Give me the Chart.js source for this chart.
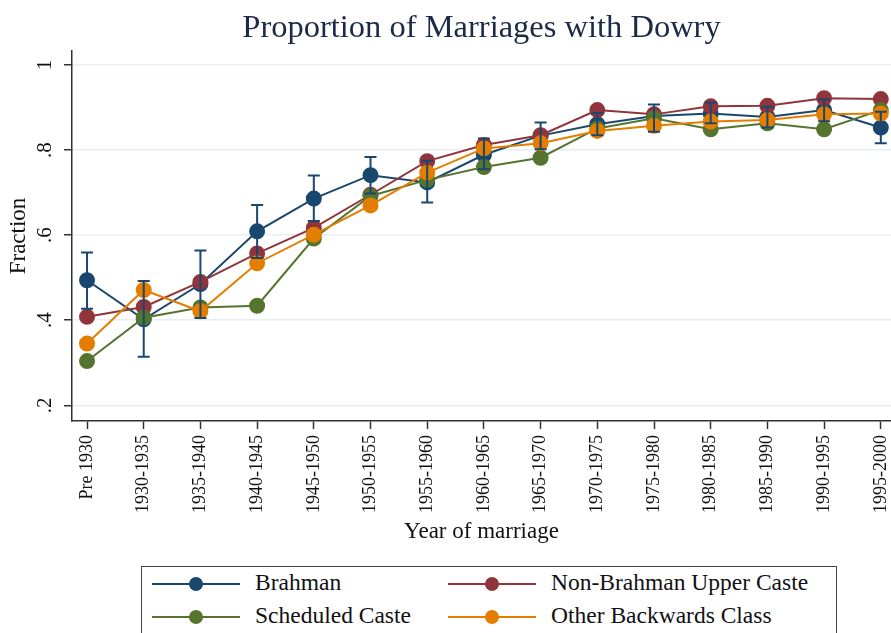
<!DOCTYPE html>
<html>
<head>
<meta charset="utf-8">
<script src="https://cdn.jsdelivr.net/npm/chart.js@4/dist/chart.umd.min.js"></script>
<style>
  html, body { margin: 0; padding: 0; background: #fff; overflow: hidden; }
  #wrap { position: relative; width: 891px; height: 633px; }
  #grafico { position: absolute; left: 0; top: 0; }
  #leyenda {
    position: absolute; left: 141px; top: 566px; width: 696px; height: 90px;
    border: 1px solid #444; box-sizing: border-box; background: #fff;
    font-family: "Liberation Serif", "DejaVu Serif", serif; font-size: 23.5px; color: #111;
  }
  .item { position: absolute; height: 30px; }
  .linea { position: absolute; top: 14px; height: 2px; width: 88px; left: 0; }
  .punto { position: absolute; top: 8px; left: 37px; width: 14px; height: 14px; border-radius: 50%; }
  .texto { position: absolute; left: 103px; top: 0px; white-space: nowrap; }
</style>
</head>
<body>
<div id="wrap">
  <canvas id="grafico" width="891" height="633"></canvas>
  <div id="leyenda"></div>
</div>
<script>
// Datos
const categorias = ['Pre 1930', '1930-1935', '1935-1940', '1940-1945', '1945-1950', '1950-1955',
    '1955-1960', '1960-1965', '1965-1970', '1970-1975', '1975-1980', '1980-1985',
    '1985-1990', '1990-1995', '1995-2000'];

const brahman = [0.494, 0.402, 0.485, 0.609, 0.686, 0.741, 0.724, 0.789, 0.834, 0.861, 0.880, 0.886, 0.878, 0.894, 0.853];
const brahmanBajo = [0.427, 0.314, 0.405, 0.546, 0.633, 0.698, 0.677, 0.755, 0.802, 0.835, 0.843, 0.863, 0.853, 0.868, 0.816];
const brahmanAlto = [0.559, 0.492, 0.564, 0.671, 0.740, 0.784, 0.775, 0.827, 0.865, 0.887, 0.907, 0.912, 0.902, 0.919, 0.890];
const noBrahman = [0.408, 0.431, 0.490, 0.557, 0.617, 0.695, 0.774, 0.812, 0.835, 0.894, 0.884, 0.903, 0.904, 0.922, 0.920];
const castaRegistrada = [0.304, 0.406, 0.430, 0.434, 0.592, 0.692, 0.730, 0.760, 0.782, 0.851, 0.875, 0.849, 0.863, 0.849, 0.894];
const otrasClases = [0.345, 0.471, 0.421, 0.534, 0.601, 0.670, 0.747, 0.804, 0.816, 0.845, 0.857, 0.867, 0.871, 0.884, 0.886];

const ticksY = [0.2, 0.4, 0.6, 0.8, 1];
const etiquetasY = ['.2', '.4', '.6', '.8', '1'];

const series = [
    { nombre: 'Brahman', datos: brahman, color: '#1a476f', orden: 4 },
    { nombre: 'Non-Brahman Upper Caste', datos: noBrahman, color: '#90353b', orden: 3 },
    { nombre: 'Scheduled Caste', datos: castaRegistrada, color: '#55752f', orden: 2 },
    { nombre: 'Other Backwards Class', datos: otrasClases, color: '#e37e00', orden: 1 }
];

const fuente = '"Liberation Serif", "DejaVu Serif", serif';

// Barras de error (solo Brahman)
const barrasError = {
    id: 'barrasError',
    afterDatasetsDraw(chart) {
        const ctx = chart.ctx;
        const x = chart.scales.x, y = chart.scales.y;
        ctx.save();
        ctx.strokeStyle = '#1a476f';
        ctx.lineWidth = 2;
        brahman.forEach((v, i) => {
            const px = x.getPixelForValue(i);
            const y1 = y.getPixelForValue(brahmanBajo[i]);
            const y2 = y.getPixelForValue(brahmanAlto[i]);
            ctx.beginPath();
            ctx.moveTo(px, y1); ctx.lineTo(px, y2);
            ctx.moveTo(px - 6, y1); ctx.lineTo(px + 6, y1);
            ctx.moveTo(px - 6, y2); ctx.lineTo(px + 6, y2);
            ctx.stroke();
        });
        ctx.restore();
    }
};

// Título centrado sobre el área del gráfico
const tituloCentrado = {
    id: 'tituloCentrado',
    afterDraw(chart) {
        const ctx = chart.ctx;
        const a = chart.chartArea;
        ctx.save();
        ctx.font = '32.5px ' + fuente;
        ctx.fillStyle = '#1c2a48';
        ctx.textAlign = 'center';
        ctx.textBaseline = 'middle';
        ctx.fillText('Proportion of Marriages with Dowry', (a.left + a.right) / 2, 28);
        ctx.restore();
    }
};

new Chart(document.getElementById('grafico'), {
    type: 'line',
    data: {
        datasets: series.map(s => ({
            label: s.nombre,
            data: s.datos.map((v, i) => ({ x: i, y: v })),
            borderColor: s.color,
            backgroundColor: s.color,
            pointBackgroundColor: s.color,
            pointBorderColor: s.color,
            borderWidth: 2,
            pointRadius: 7,
            pointHoverRadius: 7,
            tension: 0,
            order: s.orden
        }))
    },
    options: {
        responsive: false,
        animation: false,
        layout: { autoPadding: false, padding: { top: 51, left: 0, right: 0, bottom: 87 } },
        plugins: {
            legend: { display: false },
            tooltip: { enabled: false },
            title: { display: false }
        },
        scales: {
            x: {
                type: 'linear',
                min: -0.265,
                max: 14.18,
                afterBuildTicks: s => { s.ticks = categorias.map((c, i) => ({ value: i })); },
                afterFit: s => { s.height = 125; s.paddingLeft = 0; s.paddingRight = 0; },
                ticks: {
                    callback: v => categorias[v],
                    minRotation: 90,
                    maxRotation: 90,
                    autoSkip: false,
                    padding: 6,
                    color: '#111',
                    font: { family: fuente, size: 18 }
                },
                grid: { drawOnChartArea: false, tickLength: 8, tickColor: '#333', tickWidth: 1.5 },
                border: { color: '#333', width: 1.5 },
                title: {
                    display: true,
                    text: 'Year of marriage',
                    color: '#111',
                    font: { family: fuente, size: 23 },
                    padding: { top: 4, bottom: 0 }
                }
            },
            y: {
                min: 0.163,
                max: 1.033,
                afterBuildTicks: s => { s.ticks = ticksY.map(v => ({ value: v })); },
                afterFit: s => { s.width = 72; s.paddingTop = 0; s.paddingBottom = 0; },
                ticks: {
                    callback: (v, i) => etiquetasY[i],
                    minRotation: 90,
                    maxRotation: 90,
                    crossAlign: 'center',
                    padding: 11,
                    color: '#111',
                    font: { family: fuente, size: 21 }
                },
                grid: { color: '#e8eff2', lineWidth: 1.5, tickLength: 8, tickColor: '#333', tickWidth: 1.5 },
                border: { color: '#333', width: 1.5 },
                title: {
                    display: true,
                    text: 'Fraction',
                    color: '#111',
                    font: { family: fuente, size: 23 },
                    padding: { top: 5, bottom: 0 }
                }
            }
        }
    },
    plugins: [barrasError, tituloCentrado]
});

// Leyenda en recuadro, dos columnas
const leyenda = document.getElementById('leyenda');
const posiciones = [[10, 2], [306, 2], [10, 35], [306, 35]];
series.forEach((s, i) => {
    const item = document.createElement('div');
    item.className = 'item';
    item.style.left = posiciones[i][0] + 'px';
    item.style.top = posiciones[i][1] + 'px';
    item.innerHTML = '<div class="linea" style="background:' + s.color + '"></div>' +
        '<div class="punto" style="background:' + s.color + '"></div>' +
        '<div class="texto">' + s.nombre + '</div>';
    leyenda.appendChild(item);
});
</script>
</body>
</html>
